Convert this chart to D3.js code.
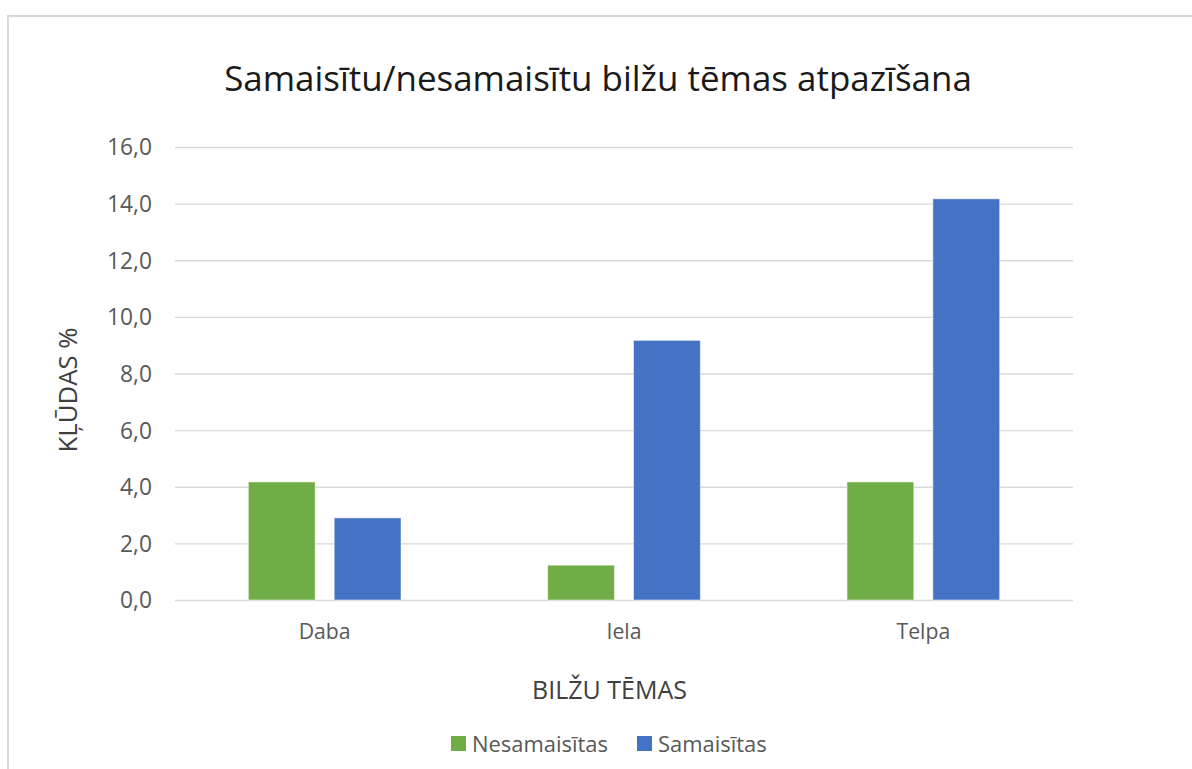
<!DOCTYPE html>
<html>
<head>
<meta charset="utf-8">
<script src="https://cdn.jsdelivr.net/npm/d3@7"></script>
<style>
  html, body { margin: 0; padding: 0; background: #fff; }
  svg { display: block; }
  text { font-family: "Open Sans", "Noto Sans", sans-serif; }
</style>
</head>
<body>
<svg id="chart" width="1192" height="769"></svg>
<script>
const categories = ["Daba", "Iela", "Telpa"];
const seriesNames = ["Nesamaisītas", "Samaisītas"];
const nesamaisitas = [4.17, 1.23, 4.17];
const samaisitas = [2.9, 9.17, 14.17];
const yTicks = [0, 2, 4, 6, 8, 10, 12, 14, 16];
const titleText = "Samaisītu/nesamaisītu bilžu tēmas atpazīšana";
const xTitle = "BILŽU TĒMAS";
const yTitle = "KĻŪDAS %";

const colors = ["#70AD47", "#4472C4"];
const seriesValues = [nesamaisitas, samaisitas];

const svg = d3.select("#chart");

// frame
svg.append("path")
  .attr("d", "M1192,16 H8 V769")
  .attr("fill", "none").attr("stroke", "#d9d9d9").attr("stroke-width", 2);

const plot = { left: 175, right: 1073, top: 147, bottom: 600 };

const y = d3.scaleLinear().domain([0, 16]).range([plot.bottom, plot.top]);
const x0 = d3.scaleBand().domain(categories).range([plot.left, plot.right])
  .paddingInner(0.49).paddingOuter(0.245);
const x1 = d3.scaleBand().domain(seriesNames).range([0, x0.bandwidth()]).paddingInner(0.222);

function fitSize(sel, target) {
  const w = sel.node().getComputedTextLength();
  const fs = parseFloat(sel.attr("font-size"));
  return fs * target / w;
}

// grid
const yAxis = d3.axisLeft(y).tickValues(yTicks)
  .tickSize(-(plot.right - plot.left)).tickPadding(23)
  .tickFormat(d => d3.format(".1f")(d).replace(".", ","));
const gy = svg.append("g").attr("transform", `translate(${plot.left},0)`).call(yAxis);
gy.select(".domain").remove();
gy.selectAll(".tick line").attr("stroke", "#d9d9d9").attr("stroke-width", 1.3);
const yLabels = gy.selectAll(".tick text").attr("fill", "#595959").attr("font-size", 19).attr("dy", "0.35em");
const yfs = fitSize(yLabels.filter(d => d === 16), 45);
yLabels.attr("font-size", yfs);

// x labels
const xAxis = d3.axisBottom(x0).tickSize(0).tickPadding(0);
const gx = svg.append("g").attr("transform", `translate(0,${plot.bottom})`).call(xAxis);
gx.select(".domain").remove();
const xLabels = gx.selectAll(".tick text").attr("fill", "#595959").attr("font-size", 19)
  .attr("y", 39).attr("dy", 0);
const xfs = fitSize(xLabels.filter(d => d === "Daba"), 52);
xLabels.attr("font-size", xfs);

// bars
const groups = svg.append("g").selectAll("g").data(categories).join("g")
  .attr("transform", d => `translate(${x0(d)},0)`);
groups.selectAll("rect")
  .data((c, i) => seriesNames.map((s, j) => ({ s, j, v: seriesValues[j][i] })))
  .join("rect")
  .attr("x", d => x1(d.s))
  .attr("width", x1.bandwidth())
  .attr("y", d => y(d.v))
  .attr("height", d => y(0) - y(d.v))
  .attr("fill", d => colors[d.j])
  .attr("stroke", "#ffffff").attr("stroke-opacity", 0.5).attr("stroke-width", 1);

// title
const t = svg.append("text").attr("x", 598).attr("y", 91)
  .attr("text-anchor", "middle").attr("fill", "#1a1a1a").attr("font-size", 30)
  .text(titleText);
t.attr("font-size", fitSize(t, 748));

// x title
const xt = svg.append("text").attr("x", 609.5).attr("y", 699)
  .attr("text-anchor", "middle").attr("fill", "#404040").attr("font-size", 21)
  .text(xTitle);
xt.attr("font-size", fitSize(xt, 155));

// y title
const yt = svg.append("text")
  .attr("transform", "translate(77,390) rotate(-90)")
  .attr("text-anchor", "middle").attr("fill", "#404040").attr("font-size", 21)
  .text(yTitle);
yt.attr("font-size", fitSize(yt, 125));

// legend
const legendItems = [
  { name: seriesNames[0], color: colors[0], sx: 451, tx: 472 },
  { name: seriesNames[1], color: colors[1], sx: 637, tx: 658 }
];
const lg = svg.append("g");
const lt = [];
legendItems.forEach(it => {
  lg.append("rect").attr("x", it.sx).attr("y", 736).attr("width", 15).attr("height", 15).attr("fill", it.color);
  lt.push(lg.append("text").attr("x", it.tx).attr("y", 752).attr("fill", "#595959").attr("font-size", 19).text(it.name));
});
const lfs = fitSize(lt[0], 136);
lt.forEach(s => s.attr("font-size", lfs));
</script>
</body>
</html>
